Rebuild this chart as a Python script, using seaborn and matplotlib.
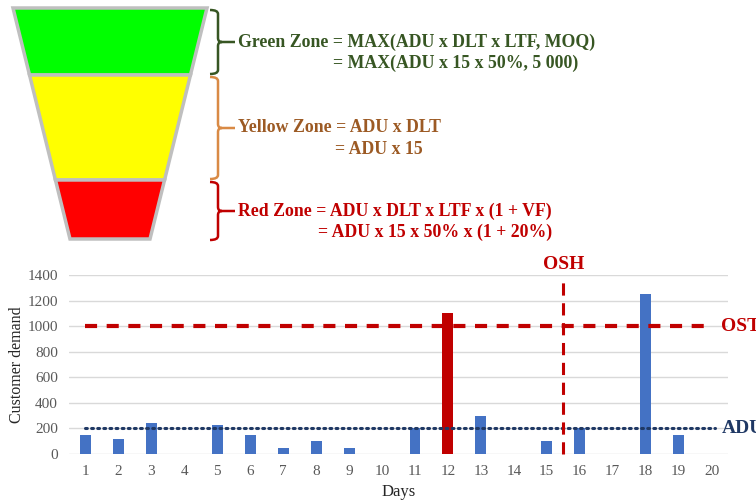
import matplotlib.pyplot as plt
import numpy as np
import pandas as pd
import seaborn as sns
from matplotlib.patches import Polygon
from matplotlib.path import Path
from matplotlib.patches import PathPatch

# chart data
days = [str(d) for d in range(1, 21)]
demand = [150, 120, 240, 0, 230, 150, 50, 100, 50, 0,
          200, 1100, 300, 0, 100, 200, 0, 1250, 150, 0]
over_spike = [d > 1000 and i < 14 for i, d in enumerate(demand)]
ost = 1000
adu = 200
osh_day = 15.5
osh_top = 1350

# funnel zones (top / bottom pixel rows) and formulas
zone_names = ['green', 'yellow', 'red']
zone_fill = ['#00FF00', '#FFFF00', '#FF0000']
zone_rows = [(8, 75), (75, 180), (180, 239)]
zone_text_col = ['#375623', '#9C5A24', '#C00000']
brace_col = ['#375623', '#D98A45', '#C00000']
brace_rows = [(10, 74), (77, 179), (182, 240)]
formula_1 = ['Green Zone = MAX(ADU x DLT x LTF, MOQ)',
             'Yellow Zone = ADU x DLT',
             'Red Zone = ADU x DLT x LTF x (1 + VF)']
formula_2 = ['= MAX(ADU x 15 x 50%, 5 000)',
             '= ADU x 15',
             '= ADU x 15 x 50% x (1 + 20%)']
formula_2_x = [333, 335, 318]

sns.set_style('white')
plt.rcParams['font.family'] = ['Liberation Serif', 'DejaVu Serif']

fig = plt.figure(figsize=(7.56, 5.0), dpi=100)

# ---- funnel diagram (pixel coordinates) ----
top = fig.add_axes([0, 0, 1, 1])
top.set_xlim(0, 756)
top.set_ylim(500, 0)
top.axis('off')

cx, y_top, y_bot, hw_top, hw_bot = 110, 8, 239, 97, 40


def half_width(y):
    return hw_top + (hw_bot - hw_top) * (y - y_top) / (y_bot - y_top)


for (y0, y1), fc in zip(zone_rows, zone_fill):
    w0, w1 = half_width(y0), half_width(y1)
    pts = [(cx - w0, y0), (cx + w0, y0), (cx + w1, y1), (cx - w1, y1)]
    top.add_patch(Polygon(pts, closed=True, fc=fc, ec='#BFBFBF', lw=2.5,
                          joinstyle='miter'))


def brace(ax, y0, y1, color, x_hook=210, x_bar=218, x_tip=235):
    ym = (y0 + y1) / 2
    r = 4
    verts = [(x_hook, y0), (x_bar, y0), (x_bar, y0 + r),
             (x_bar, ym - r), (x_bar, ym), (x_bar + r, ym),
             (x_tip, ym),
             (x_bar + r, ym), (x_bar, ym), (x_bar, ym + r),
             (x_bar, y1 - r), (x_bar, y1), (x_hook, y1)]
    codes = [Path.MOVETO, Path.CURVE3, Path.CURVE3,
             Path.LINETO, Path.CURVE3, Path.CURVE3,
             Path.LINETO,
             Path.MOVETO, Path.CURVE3, Path.CURVE3,
             Path.LINETO, Path.CURVE3, Path.CURVE3]
    ax.add_patch(PathPatch(Path(verts, codes), fc='none', ec=color, lw=1.8))


for i in range(3):
    y0, y1 = brace_rows[i]
    brace(top, y0, y1, brace_col[i])
    ym = (y0 + y1) / 2
    top.text(238, ym, formula_1[i], color=zone_text_col[i], fontsize=12.8,
             fontweight='bold', va='center', ha='left')
    top.text(formula_2_x[i], ym + 21, formula_2[i], color=zone_text_col[i],
             fontsize=12.8, fontweight='bold', va='center', ha='left')

# ---- demand bar chart ----
ax = fig.add_axes([69 / 756, 1 - 454 / 500, (728 - 69) / 756, (454 - 275) / 500])
df = pd.DataFrame({'day': days, 'demand': demand, 'spike': over_spike})
sns.barplot(data=df, x='day', y='demand', hue='spike',
            palette={False: '#4472C4', True: '#C00000'},
            width=0.33, dodge=False, legend=False, saturation=1,
            linewidth=0, ax=ax)

ax.set_xlim(-0.5, 19.5)
ax.set_ylim(0, 1400)
ax.set_yticks(np.arange(0, 1401, 200))
ax.yaxis.grid(True, color='#D9D9D9', lw=1)
ax.set_axisbelow(True)
for s in ax.spines.values():
    s.set_visible(False)
ax.tick_params(length=0, labelsize=11, labelcolor='#595959', pad=8)

ax.plot([0, 19], [ost, ost], color='#C00000', lw=3, ls=(0, (2.9, 2.3)))
ax.plot([0, 19.1], [adu, adu], color='#1F3864', lw=2.2, ls=(0, (0.6, 1.4)),
        dash_capstyle='round')
ax.plot([osh_day - 1, osh_day - 1], [0, osh_top], color='#C00000', lw=2.2,
        ls=(0, (4, 2.5)), clip_on=False)

ax.text(19.3, ost, 'OST', color='#C00000', fontsize=14, fontweight='bold',
        va='center', ha='left', clip_on=False)
ax.text(19.3, adu, 'ADU', color='#1F3864', fontsize=14, fontweight='bold',
        va='center', ha='left', clip_on=False)
ax.text(osh_day - 1, 1485, 'OSH', color='#C00000', fontsize=14,
        fontweight='bold', va='center', ha='center', clip_on=False)

ax.set_xlabel('Days', fontsize=12, labelpad=4)
ax.set_ylabel('Customer demand', fontsize=11.5)
ax.yaxis.set_label_coords(-44 / 659, 0.5)

fig.savefig('out.png', dpi=100)
